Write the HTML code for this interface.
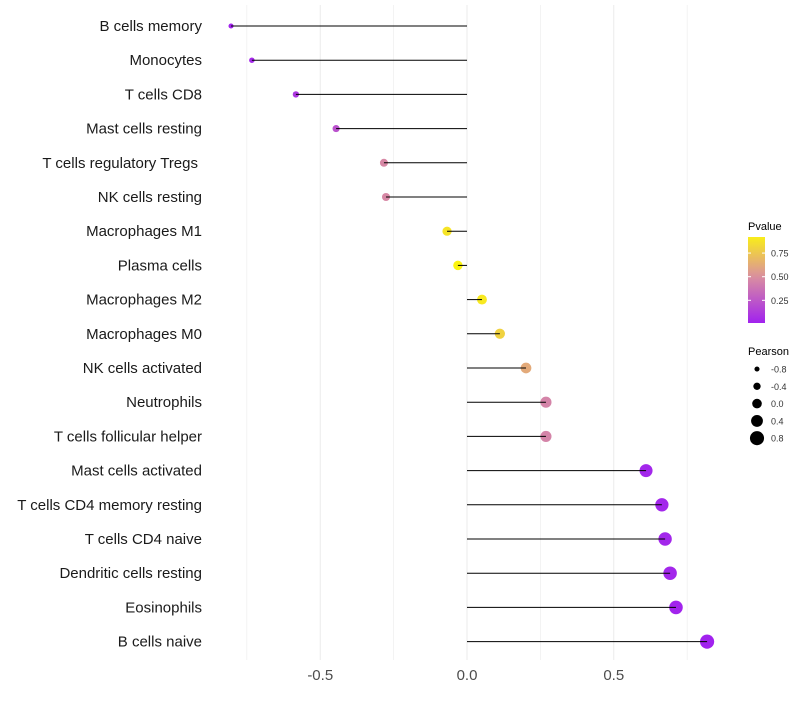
<!DOCTYPE html>
<html><head><meta charset="utf-8"><style>
body{margin:0;background:#fff;font-family:"Liberation Sans",sans-serif}
</style></head><body>
<svg id="chart" width="800" height="700" font-family="Liberation Sans, sans-serif" xml:space="preserve"></svg>
<script>
const categories=["B cells memory","Monocytes","T cells CD8","Mast cells resting","T cells regulatory  Tregs ","NK cells resting","Macrophages M1","Plasma cells","Macrophages M2","Macrophages M0","NK cells activated","Neutrophils","T cells follicular helper","Mast cells activated","T cells CD4 memory resting","T cells CD4 naive","Dendritic cells resting","Eosinophils","B cells naive"];
const pearson=[-0.804,-0.733,-0.583,-0.446,-0.283,-0.276,-0.068,-0.031,0.051,0.112,0.201,0.269,0.269,0.61,0.664,0.675,0.692,0.712,0.818];
const pvalues=[0.02,0.04,0.1,0.22,0.47,0.47,0.88,0.95,0.9,0.8,0.62,0.45,0.45,0.03,0.03,0.03,0.03,0.02,0.01];
const xTicks=[-0.5,0,0.5];
const xTickLabels=["-0.5","0.0","0.5"];
const pTicks=[0.25,0.5,0.75];
const pTickLabels=["0.25","0.50","0.75"];
const sizeLegend=[-0.8,-0.4,0,0.4,0.8];
const sizeLegendLabels=["-0.8","-0.4","0.0","0.4","0.8"];

const NS="http://www.w3.org/2000/svg";
const svg=document.getElementById('chart');
function el(t,a,p){const e=document.createElementNS(NS,t);for(const k in a)e.setAttribute(k,a[k]);(p||svg).appendChild(e);return e;}
const x=v=>467+v*293.5;
const y=i=>26+i*34.2;
const r=v=>4.8+v*2.8;
function lerp(a,b,t){return a.map((c,i)=>Math.round(c+(b[i]-c)*t));}
function color(p){const s=[[0,[160,32,240]],[0.5,[218,143,160]],[1,[255,255,0]]];
 for(let i=0;i<s.length-1;i++){if(p<=s[i+1][0]){const t=(p-s[i][0])/(s[i+1][0]-s[i][0]);const c=lerp(s[i][1],s[i+1][1],t);return `rgb(${c})`;}}return 'rgb(255,255,0)';}

for(let v=-0.75;v<=0.76;v+=0.25){const g=el('line',{x1:x(v),x2:x(v),y1:5,y2:660,stroke:'#ebebeb','stroke-width':Math.abs(v*4%2)<0.01?1:0.6});
}

categories.forEach((c,i)=>{
 const dot=el('circle',{cx:x(pearson[i]),cy:y(i),r:r(pearson[i]),fill:color(pvalues[i])});
 
 const ln=el('line',{x1:x(0),x2:x(pearson[i]),y1:y(i),y2:y(i),stroke:'#000','stroke-width':1});
 
 const t=el('text',{x:202,y:y(i)+5,'text-anchor':'end','font-size':15,fill:'#1a1a1a'});t.textContent=c.trimEnd();
 
 if(c.endsWith(' '))t.setAttribute('dx',-4);
});
xTicks.forEach((v,i)=>{const t=el('text',{x:x(v),y:680,'text-anchor':'middle','font-size':15,fill:'#4d4d4d'});t.textContent=xTickLabels[i];
});

const lt=el('text',{x:748,y:230,'font-size':11,fill:'#000'});lt.textContent='Pvalue';

const defs=el('defs',{});const gr=el('linearGradient',{id:'pg',x1:0,y1:1,x2:0,y2:0},defs);
for(let k=0;k<=10;k++){const p=0.01+k*0.091;el('stop',{offset:k/10,'stop-color':color(p)},gr);}
const bar=el('rect',{x:748,y:237,width:17,height:86,fill:'url(#pg)'});

const py=p=>323-(p-0.01)/0.91*86;
pTicks.forEach((p,i)=>{el('line',{x1:748,x2:751,y1:py(p),y2:py(p),stroke:'#fff'});el('line',{x1:762,x2:765,y1:py(p),y2:py(p),stroke:'#fff'});
const t=el('text',{x:771,y:py(p)+3.5,'font-size':9,fill:'#333'});t.textContent=pTickLabels[i];
});

const st=el('text',{x:748,y:355,'font-size':11,fill:'#000'});st.textContent='Pearson';

sizeLegend.forEach((v,i)=>{const cy=369+i*17.3;const c=el('circle',{cx:757,cy:cy,r:r(v),fill:'#000'});

const t=el('text',{x:771,y:cy+3.5,'font-size':9,fill:'#333'});t.textContent=sizeLegendLabels[i];
});
</script>
</body></html>
